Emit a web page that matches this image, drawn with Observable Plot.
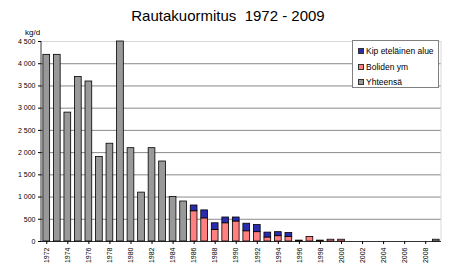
<!DOCTYPE html>
<html>
<head>
<meta charset="utf-8">
<script src="https://cdn.jsdelivr.net/npm/d3@7"></script>
<script src="https://cdn.jsdelivr.net/npm/@observablehq/plot@0.6"></script>
<style>
  html, body { margin: 0; padding: 0; background: #fff; }
  #wrap { position: relative; width: 453px; height: 277px; font-family: "Liberation Sans", Arial, sans-serif; }
  #chart { position: absolute; left: 0; top: 0; }
  #title { position: absolute; left: 0; width: 453px; top: 7px; text-align: center; font-size: 15px; color: #000; padding-left: 3px; box-sizing: border-box; white-space: pre; }
  #unit { position: absolute; left: 25px; top: 28px; font-size: 8px; color: #000; }
  #legend { position: absolute; left: 352px; top: 40px; width: 87px; height: 48px; border: 1px solid #808080; background: #fff; box-sizing: border-box; font-size: 8.5px; padding-top: 3px; }
  #legend .row { height: 15.5px; line-height: 15.5px; padding-left: 5px; white-space: nowrap; }
  #legend .sw { display: inline-block; width: 4px; height: 4px; border: 1px solid #333; margin-right: 2px; vertical-align: 0px; }
</style>
</head>
<body>
<div id="wrap">
  <div id="chart"></div>
  <div id="title">Rautakuormitus  1972 - 2009</div>
  <div id="unit">kg/d</div>
  <div id="legend"></div>
</div>
<script>
const years = d3.range(1972, 2010);
const seriesNames = ["Kip eteläinen alue", "Boliden ym", "Yhteensä"];
const seriesColors = ["#2b2bb0", "#ff8080", "#999999"];
// Values in kg/d, one per year 1972..2009
const yhteensa = [4200, 4200, 2900, 3700, 3600, 1900, 2200, 4500, 2100, 1100, 2100, 1800, 1000, 900,
  0, 0, 0, 0, 0, 0, 0, 0, 0, 0, 0, 0, 0, 0, 0, 0, 0, 0, 0, 0, 0, 0, 0, 40];
const boliden = [0, 0, 0, 0, 0, 0, 0, 0, 0, 0, 0, 0, 0, 0,
  680, 520, 260, 410, 450, 230, 210, 90, 120, 100, 20, 100, 20, 40, 40, 0, 0, 0, 0, 0, 0, 0, 0, 0];
const kip = [0, 0, 0, 0, 0, 0, 0, 0, 0, 0, 0, 0, 0, 0,
  130, 180, 150, 130, 90, 170, 160, 110, 90, 90, 0, 0, 0, 0, 0, 0, 0, 0, 0, 0, 0, 0, 0, 0];
const yTicks = [0, 500, 1000, 1500, 2000, 2500, 3000, 3500, 4000, 4500];
const xTicks = years.filter((y, i) => i % 2 === 0);

const rows = [];
years.forEach((yr, i) => {
  rows.push({year: yr, series: "Yhteensä", value: yhteensa[i]});
  rows.push({year: yr, series: "Boliden ym", value: boliden[i]});
  rows.push({year: yr, series: "Kip eteläinen alue", value: kip[i]});
});
const data = rows.filter(d => d.value > 0);
const order = ["Yhteensä", "Boliden ym", "Kip eteläinen alue"];

const fmt = d => d3.format(",")(d).replace(/,/g, " ");

const chart = Plot.plot({
  width: 453,
  height: 277,
  marginTop: 41,
  marginBottom: 36,
  marginLeft: 41,
  marginRight: 12,
  style: {fontFamily: "Liberation Sans, Arial, sans-serif", fontSize: "7px", color: "#000", background: "transparent"},
  x: {type: "band", domain: years, paddingInner: 0.36, paddingOuter: 0.18, round: false, label: null},
  y: {domain: [0, 4500], label: null},
  color: {domain: seriesNames, range: seriesColors},
  marks: [
    Plot.gridY(yTicks.filter(v => v > 0 && v < 4500), {stroke: "#8a8a8a", strokeOpacity: 1, strokeWidth: 1}),
    Plot.gridY([4500], {stroke: "#d8d8d8", strokeOpacity: 1}),
    Plot.barY(data, {
      x: "year", y: "value", fill: "series",
      order: order, stroke: "#000", strokeWidth: 0.8
    }),
    Plot.ruleY([0], {stroke: "#000", strokeWidth: 0.8}),
    Plot.axisY({ticks: yTicks, tickFormat: fmt, tickSize: 3, tickPadding: 3, stroke: "#000", fontSize: 7}),
    Plot.axisX({ticks: xTicks, tickFormat: d => String(d), tickRotate: -90, tickSize: 3, tickPadding: 3, fontSize: 7})
  ]
});
document.getElementById("chart").appendChild(chart);

// y-axis line and right frame border, placed with the plot's own y scale
const sy = chart.scale("y");
const svg = d3.select(chart);
const x0 = 41, x1 = 453 - 12;
svg.append("line").attr("x1", x0).attr("x2", x0).attr("y1", sy.apply(0)).attr("y2", sy.apply(4500)).attr("stroke", "#000").attr("stroke-width", 0.8);
svg.append("line").attr("x1", x1).attr("x2", x1).attr("y1", sy.apply(0)).attr("y2", sy.apply(4500)).attr("stroke", "#d8d8d8");

const legendOrder = ["Kip eteläinen alue", "Boliden ym", "Yhteensä"];
const leg = document.getElementById("legend");
legendOrder.forEach(name => {
  const r = document.createElement("div");
  r.className = "row";
  const sw = document.createElement("span");
  sw.className = "sw";
  sw.style.background = seriesColors[seriesNames.indexOf(name)];
  r.appendChild(sw);
  r.appendChild(document.createTextNode(name));
  leg.appendChild(r);
});
</script>
</body>
</html>
